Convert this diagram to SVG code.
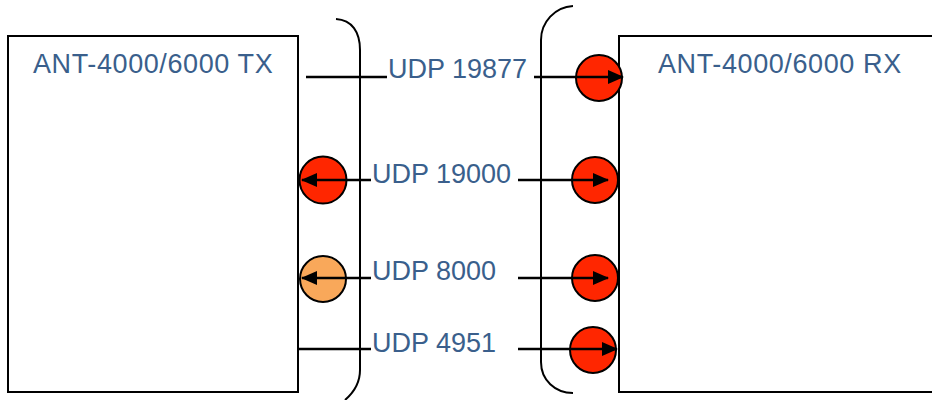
<svg xmlns="http://www.w3.org/2000/svg" width="932" height="400" viewBox="0 0 932 400">
<style>
.box{fill:#fff;stroke:#000;stroke-width:2}
.br{fill:none;stroke:#000;stroke-width:2}
.ln{stroke:#000;stroke-width:2.5;fill:none}
.red{fill:#ff2600;stroke:#000;stroke-width:2}
.org{fill:#f9a85a;stroke:#000;stroke-width:2}
text{font-family:"Liberation Sans",Arial,sans-serif;font-size:27px;fill:#3a5f8c}
.ttl{letter-spacing:0.6px}
</style>
<defs>
<marker id="ahL" markerWidth="16" markerHeight="14" refX="15" refY="7" orient="auto" markerUnits="userSpaceOnUse">
<path d="M0,0 L16,7 L0,14 z" fill="#000"/>
</marker>
</defs>
<g id="tx">
<rect class="box" x="8" y="36" width="290" height="356"/>
<text class="ttl" x="33" y="73">ANT-4000/6000 TX</text>
</g>
<g id="rx">
<rect class="box" x="619" y="36" width="330" height="356"/>
<text class="ttl" x="658" y="73">ANT-4000/6000 RX</text>
</g>
<g id="brackets">
<path class="br" d="M336,19 C352,20 360,32 360,50 L360,370 C360,384 352,394 345,400"/>
<path class="br" d="M573,6 C555,7 541,22 541,40 L541,362 C541,380 555,393 573,393"/>
</g>
<g id="ports">
<circle class="red" cx="599" cy="78" r="23"/>
<circle class="red" cx="323" cy="180" r="23.5"/>
<circle class="red" cx="595" cy="180" r="23"/>
<circle class="org" cx="323" cy="279" r="23"/>
<circle class="red" cx="595" cy="278" r="23"/>
<circle class="red" cx="593" cy="350" r="23"/>
</g>
<g id="labels">
<text x="388" y="78">UDP 19877</text>
<text x="372" y="183">UDP 19000</text>
<text x="372" y="280">UDP 8000</text>
<text x="372" y="352">UDP 4951</text>
</g>
<g id="connectors">
<line class="ln" x1="306" y1="77" x2="387" y2="77"/>
<line class="ln" x1="534" y1="77" x2="623" y2="77" marker-end="url(#ahL)"/>
<line class="ln" x1="371" y1="180" x2="302" y2="180" marker-end="url(#ahL)"/>
<line class="ln" x1="518" y1="180" x2="608" y2="180" marker-end="url(#ahL)"/>
<line class="ln" x1="371" y1="278" x2="302" y2="278" marker-end="url(#ahL)"/>
<line class="ln" x1="518" y1="278" x2="608" y2="278" marker-end="url(#ahL)"/>
<line class="ln" x1="298" y1="349" x2="371" y2="349"/>
<line class="ln" x1="518" y1="349" x2="617" y2="349" marker-end="url(#ahL)"/>
</g>
</svg>
